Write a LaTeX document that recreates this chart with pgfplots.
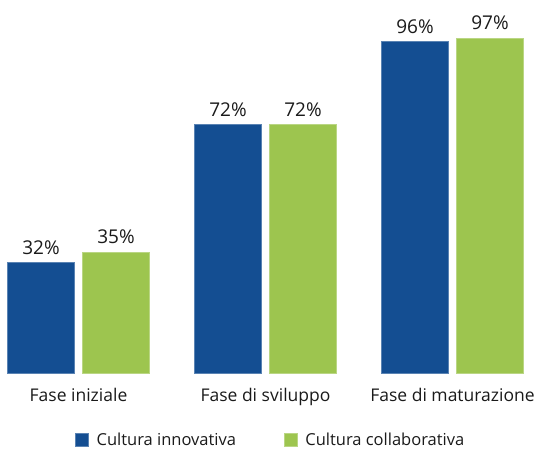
\documentclass[border=0pt]{standalone}
\usepackage{fontspec}
\setmainfont{Open Sans}
\usepackage{pgfplots}
\pgfplotsset{compat=1.18}
\definecolor{innov}{HTML}{144E92}
\definecolor{collab}{HTML}{9DC54F}
\definecolor{txt}{HTML}{1A1A1A}
\begin{document}
\begin{tikzpicture}
\useasboundingbox (0,0) rectangle (537bp,449bp);
\begin{axis}[
  at={(78.5bp,76bp)}, anchor=origin,
  x=187bp, y=3.45bp,
  xmin=-0.42, xmax=2.42, ymin=0, ymax=100,
  axis line style={draw=none},
  ytick=\empty,
  xtick={0,1,2},
  xticklabels={Fase iniziale, Fase di sviluppo, Fase di maturazione},
  major tick length=0pt,
  xticklabel style={font=\fontsize{17.5bp}{21bp}\selectfont, text=txt, inner sep=0pt, anchor=north, yshift=-15bp},
  ybar, bar width=67bp,
  /pgf/number format/assume math mode=true,
  nodes near coords={\pgfmathprintnumber{\pgfplotspointmeta}\%},
  point meta=y,
  nodes near coords style={font=\fontsize{19bp}{22bp}\selectfont, text=txt, inner sep=0pt, anchor=south, yshift=8bp},
  legend columns=2,
  legend style={at={(0.510,-0.194)}, anchor=center, draw=none, fill=none,
    font=\fontsize{16.5bp}{19bp}\selectfont, text=txt,
    /tikz/every even column/.append style={column sep=46bp}},
  legend image code/.code={\fill[#1] (0bp,-6.5bp) rectangle (13bp,6.5bp); \path[draw=none,fill=none] (0bp,0bp) -- (19bp,0bp);},
  clip=false,
]
\addplot[fill=innov, draw=innov!70!white, line width=0.6bp, bar shift=-37.5bp]
  coordinates {(0,32) (1,72) (2,96)};
\addplot[fill=collab, draw=collab!70!white, line width=0.6bp, bar shift=37.5bp]
  coordinates {(0,35) (1,72) (2,97)};
\legend{Cultura innovativa, Cultura collaborativa}
\end{axis}
\end{tikzpicture}
\end{document}
